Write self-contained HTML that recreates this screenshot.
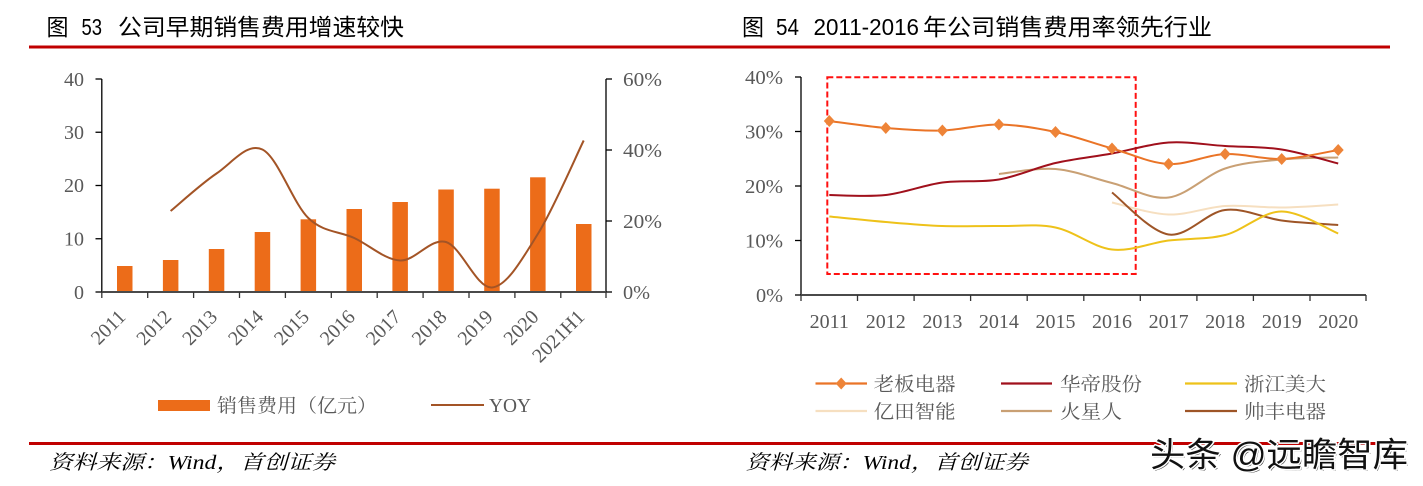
<!DOCTYPE html>
<html><head><meta charset="utf-8"><style>
html,body{margin:0;padding:0;background:#fff;}
svg{display:block;}
.t{font-family:"Liberation Sans","Noto Sans CJK SC",sans-serif;fill:#000;font-size:23px;}
.n{font-family:"Liberation Serif","Noto Serif CJK SC",serif;fill:#595959;font-size:20px;}
.lg{font-family:"Liberation Serif","Noto Serif CJK SC",serif;fill:#595959;font-size:19px;}
.src{font-family:"Liberation Serif","Noto Serif CJK SC",serif;font-style:italic;fill:#000;font-size:20px;}
</style></head><body>
<svg width="1423" height="486" viewBox="0 0 1423 486" xmlns="http://www.w3.org/2000/svg">
<rect width="1423" height="486" fill="#fff"/>
<!-- titles -->
<g class="t">
<text x="46.5" y="35" textLength="22" lengthAdjust="spacingAndGlyphs">图</text>
<text x="81.5" y="35" textLength="20.5" lengthAdjust="spacingAndGlyphs">53</text>
<text x="118" y="35" textLength="286" lengthAdjust="spacingAndGlyphs">公司早期销售费用增速较快</text>
<text x="742" y="35" textLength="22" lengthAdjust="spacingAndGlyphs">图</text>
<text x="776" y="35" textLength="23" lengthAdjust="spacingAndGlyphs">54</text>
<text x="813.5" y="35" textLength="105.5" lengthAdjust="spacingAndGlyphs">2011-2016</text>
<text x="923" y="35" textLength="289" lengthAdjust="spacingAndGlyphs">年公司销售费用率领先行业</text>
</g>
<rect x="29" y="45.5" width="1361" height="3" fill="#C00000"/>
<rect x="29" y="442" width="1361" height="3" fill="#C00000"/>

<!-- LEFT CHART -->
<g fill="#EC6C19">
<rect x="117" y="266" width="15.5" height="26"/>
<rect x="162.9" y="260" width="15.5" height="32"/>
<rect x="208.8" y="249" width="15.5" height="43"/>
<rect x="254.7" y="232" width="15.5" height="60"/>
<rect x="300.6" y="219.3" width="15.5" height="72.7"/>
<rect x="346.5" y="209" width="15.5" height="83"/>
<rect x="392.4" y="202" width="15.5" height="90"/>
<rect x="438.3" y="189.5" width="15.5" height="102.5"/>
<rect x="484.2" y="188.7" width="15.5" height="103.3"/>
<rect x="530.1" y="177.3" width="15.5" height="114.7"/>
<rect x="576" y="224" width="15.5" height="68"/>
</g>
<path d="M170.6,211 C178.25,204.75 201.2,183.75 216.5,173.5 C231.8,163.25 247.1,142.08 262.4,149.5 C277.7,156.92 293,203.25 308.3,218 C323.6,232.75 338.9,230.92 354.2,238 C369.5,245.08 384.8,259.83 400.1,260.5 C415.4,261.17 430.7,237.5 446,242 C461.3,246.5 476.6,288.83 491.9,287.5 C507.2,286.17 522.5,258.5 537.8,234 C553.1,209.5 576.05,156.08 583.7,140.5" fill="none" stroke="#A35426" stroke-width="2"/>
<!-- axes -->
<line x1="101.8" y1="79" x2="101.8" y2="292" stroke="#000" stroke-width="1.3"/>
<g stroke="#000" stroke-width="1.3">
<line x1="95.5" y1="79" x2="101.8" y2="79"/>
<line x1="95.5" y1="132.25" x2="101.8" y2="132.25"/>
<line x1="95.5" y1="185.5" x2="101.8" y2="185.5"/>
<line x1="95.5" y1="238.75" x2="101.8" y2="238.75"/>
<line x1="95.5" y1="292" x2="101.8" y2="292"/>
</g>
<line x1="606" y1="79" x2="606" y2="292" stroke="#000" stroke-width="1.3"/>
<g stroke="#000" stroke-width="1.3">
<line x1="606" y1="79" x2="612" y2="79"/>
<line x1="606" y1="150" x2="612" y2="150"/>
<line x1="606" y1="221" x2="612" y2="221"/>
<line x1="606" y1="292" x2="612" y2="292"/>
</g>
<line x1="101.8" y1="292" x2="606" y2="292" stroke="#4a4a4a" stroke-width="2"/>
<g stroke="#333" stroke-width="1.3">
<line x1="101.8" y1="292" x2="101.8" y2="298"/><line x1="147.7" y1="292" x2="147.7" y2="298"/>
<line x1="193.6" y1="292" x2="193.6" y2="298"/><line x1="239.5" y1="292" x2="239.5" y2="298"/>
<line x1="285.4" y1="292" x2="285.4" y2="298"/><line x1="331.3" y1="292" x2="331.3" y2="298"/>
<line x1="377.2" y1="292" x2="377.2" y2="298"/><line x1="423.1" y1="292" x2="423.1" y2="298"/>
<line x1="469" y1="292" x2="469" y2="298"/><line x1="514.9" y1="292" x2="514.9" y2="298"/>
<line x1="560.8" y1="292" x2="560.8" y2="298"/><line x1="606" y1="292" x2="606" y2="298"/>
</g>
<g class="n" text-anchor="end">
<text x="84" y="86">40</text>
<text x="84" y="139">30</text>
<text x="84" y="192">20</text>
<text x="84" y="245.5">10</text>
<text x="84" y="299">0</text>
</g>
<g class="n">
<text x="623" y="86" textLength="39" lengthAdjust="spacingAndGlyphs">60%</text>
<text x="623" y="157" textLength="39" lengthAdjust="spacingAndGlyphs">40%</text>
<text x="623" y="228" textLength="39" lengthAdjust="spacingAndGlyphs">20%</text>
<text x="623" y="299" textLength="27" lengthAdjust="spacingAndGlyphs">0%</text>
</g>
<g class="n" text-anchor="end" font-size="19">
<text transform="translate(126.7,318) rotate(-45)">2011</text>
<text transform="translate(172.6,318) rotate(-45)">2012</text>
<text transform="translate(218.5,318) rotate(-45)">2013</text>
<text transform="translate(264.4,318) rotate(-45)">2014</text>
<text transform="translate(310.3,318) rotate(-45)">2015</text>
<text transform="translate(356.2,318) rotate(-45)">2016</text>
<text transform="translate(402.1,318) rotate(-45)">2017</text>
<text transform="translate(448,318) rotate(-45)">2018</text>
<text transform="translate(493.9,318) rotate(-45)">2019</text>
<text transform="translate(539.8,318) rotate(-45)">2020</text>
<text transform="translate(585.7,318) rotate(-45)">2021H1</text>
</g>
<!-- left legend -->
<rect x="158" y="400" width="52" height="11" fill="#EC6C19"/>
<text class="lg" x="217" y="412" textLength="160" lengthAdjust="spacingAndGlyphs">销售费用（亿元）</text>
<line x1="431" y1="405" x2="484" y2="405" stroke="#A35426" stroke-width="2"/>
<text class="n" x="489" y="412" textLength="42" lengthAdjust="spacingAndGlyphs">YOY</text>
<text class="src" x="49" y="469" textLength="286" lengthAdjust="spacingAndGlyphs">资料来源：Wind，首创证券</text>

<!-- RIGHT CHART -->
<rect x="827.3" y="77.3" width="308.4" height="196.7" fill="none" stroke="#FF1010" stroke-width="2" stroke-dasharray="6 3"/>
<line x1="801" y1="77" x2="801" y2="295" stroke="#000" stroke-width="1.3"/>
<g stroke="#000" stroke-width="1.3">
<line x1="795" y1="77" x2="801" y2="77"/>
<line x1="795" y1="131.5" x2="801" y2="131.5"/>
<line x1="795" y1="186" x2="801" y2="186"/>
<line x1="795" y1="240.5" x2="801" y2="240.5"/>
<line x1="795" y1="295" x2="801" y2="295"/>
</g>
<line x1="801" y1="295" x2="1366" y2="295" stroke="#4a4a4a" stroke-width="2"/>
<g stroke="#333" stroke-width="1.3">
<line x1="801" y1="295" x2="801" y2="301"/><line x1="857.5" y1="295" x2="857.5" y2="301"/>
<line x1="914.1" y1="295" x2="914.1" y2="301"/><line x1="970.6" y1="295" x2="970.6" y2="301"/>
<line x1="1027.2" y1="295" x2="1027.2" y2="301"/><line x1="1083.8" y1="295" x2="1083.8" y2="301"/>
<line x1="1140.3" y1="295" x2="1140.3" y2="301"/><line x1="1196.9" y1="295" x2="1196.9" y2="301"/>
<line x1="1253.4" y1="295" x2="1253.4" y2="301"/><line x1="1310" y1="295" x2="1310" y2="301"/>
<line x1="1366" y1="295" x2="1366" y2="301"/>
</g>
<g class="n" text-anchor="end">
<text x="783" y="84" textLength="38" lengthAdjust="spacingAndGlyphs">40%</text>
<text x="783" y="138.5" textLength="38" lengthAdjust="spacingAndGlyphs">30%</text>
<text x="783" y="193" textLength="38" lengthAdjust="spacingAndGlyphs">20%</text>
<text x="783" y="247.5" textLength="38" lengthAdjust="spacingAndGlyphs">10%</text>
<text x="783" y="302" textLength="27" lengthAdjust="spacingAndGlyphs">0%</text>
</g>
<g class="n" text-anchor="middle">
<text x="829.3" y="328">2011</text><text x="885.8" y="328">2012</text>
<text x="942.4" y="328">2013</text><text x="998.9" y="328">2014</text>
<text x="1055.5" y="328">2015</text><text x="1112" y="328">2016</text>
<text x="1168.6" y="328">2017</text><text x="1225.1" y="328">2018</text>
<text x="1281.7" y="328">2019</text><text x="1338.2" y="328">2020</text>
</g>
<!-- series -->
<g fill="none" stroke-width="2">
<path stroke="#F6DFC0" d="M1112,202.5 C1121.4,204.5 1149.7,213.9 1168.6,214.5 C1187.4,215.1 1206.2,207.2 1225.1,206 C1244,204.8 1262.8,207.8 1281.7,207.5 C1300.5,207.3 1328.8,205 1338.2,204.5"/>
<path stroke="#C9A074" d="M998.9,174 C1008.3,173.2 1036.6,167.5 1055.5,169 C1074.3,170.5 1093.1,178.3 1112,183 C1130.9,187.8 1149.7,199.9 1168.6,197.5 C1187.4,195.1 1206.2,174.8 1225.1,168.5 C1244,162.2 1262.8,161.3 1281.7,159.5 C1300.5,157.7 1328.8,157.8 1338.2,157.5"/>
<path stroke="#9E5527" d="M1112,192.5 C1121.4,199.5 1149.7,231.6 1168.6,234.5 C1187.4,237.4 1206.2,212.3 1225.1,210 C1244,207.7 1262.8,218 1281.7,220.5 C1300.5,223 1328.8,224.3 1338.2,225"/>
<path stroke="#EEC21A" d="M829.3,216.5 C838.7,217.4 866.9,220.4 885.8,222 C904.7,223.6 923.5,225.3 942.4,226 C961.2,226.7 980,225.8 998.9,226 C1017.8,226.3 1036.6,223.6 1055.5,227.5 C1074.3,231.4 1093.1,247.3 1112,249.5 C1130.9,251.7 1149.7,242.9 1168.6,240.5 C1187.4,238.1 1206.2,239.8 1225.1,235 C1244,230.2 1262.8,211.3 1281.7,211.5 C1300.5,211.8 1328.8,229.8 1338.2,233.5"/>
<path stroke="#A0101C" d="M829.3,195 C838.7,195 866.9,197.1 885.8,195 C904.7,192.9 923.5,185.1 942.4,182.5 C961.2,179.9 980,182.8 998.9,179.5 C1017.8,176.3 1036.6,167.3 1055.5,163 C1074.3,158.7 1093.1,156.9 1112,153.5 C1130.9,150.1 1149.7,143.8 1168.6,142.5 C1187.4,141.3 1206.2,144.8 1225.1,146 C1244,147.2 1262.8,146.6 1281.7,149.5 C1300.5,152.4 1328.8,161.2 1338.2,163.5"/>
<path stroke="#EA7427" d="M829.3,121 C838.7,122.2 866.9,126.4 885.8,128 C904.7,129.6 923.5,131.1 942.4,130.5 C961.2,129.9 980,124.3 998.9,124.5 C1017.8,124.8 1036.6,128 1055.5,132 C1074.3,136 1093.1,143.2 1112,148.5 C1130.9,153.8 1149.7,163.1 1168.6,164 C1187.4,164.9 1206.2,154.8 1225.1,154 C1244,153.2 1262.8,159.7 1281.7,159 C1300.5,158.3 1328.8,151.5 1338.2,150"/>
</g>
<g fill="#EE8438">
<path d="M829.3,115 l5.5,6 l-5.5,6 l-5.5,-6z"/>
<path d="M885.8,122 l5.5,6 l-5.5,6 l-5.5,-6z"/>
<path d="M942.4,124.5 l5.5,6 l-5.5,6 l-5.5,-6z"/>
<path d="M998.9,118.5 l5.5,6 l-5.5,6 l-5.5,-6z"/>
<path d="M1055.5,126 l5.5,6 l-5.5,6 l-5.5,-6z"/>
<path d="M1112,142.5 l5.5,6 l-5.5,6 l-5.5,-6z"/>
<path d="M1168.6,158 l5.5,6 l-5.5,6 l-5.5,-6z"/>
<path d="M1225.1,148 l5.5,6 l-5.5,6 l-5.5,-6z"/>
<path d="M1281.7,153 l5.5,6 l-5.5,6 l-5.5,-6z"/>
<path d="M1338.2,144 l5.5,6 l-5.5,6 l-5.5,-6z"/>
</g>
<!-- right legend -->
<g stroke-width="2.2">
<line x1="815.5" y1="383.5" x2="867" y2="383.5" stroke="#EA7427"/>
<line x1="1001" y1="383.5" x2="1052" y2="383.5" stroke="#A0101C"/>
<line x1="1185" y1="383.5" x2="1237" y2="383.5" stroke="#EEC21A"/>
<line x1="815.5" y1="411" x2="867" y2="411" stroke="#F6DFC0"/>
<line x1="1001" y1="411" x2="1052" y2="411" stroke="#C9A074"/>
<line x1="1185" y1="411" x2="1237" y2="411" stroke="#9E5527"/>
</g>
<path d="M841.2,377.5 l5.5,6 l-5.5,6 l-5.5,-6z" fill="#EE8438"/>
<g class="lg" font-size="20">
<text x="873.6" y="390.5" textLength="82" lengthAdjust="spacingAndGlyphs">老板电器</text>
<text x="1060" y="390.5" textLength="82" lengthAdjust="spacingAndGlyphs">华帝股份</text>
<text x="1244" y="390.5" textLength="82" lengthAdjust="spacingAndGlyphs">浙江美大</text>
<text x="873.6" y="418" textLength="82" lengthAdjust="spacingAndGlyphs">亿田智能</text>
<text x="1060" y="418" textLength="62" lengthAdjust="spacingAndGlyphs">火星人</text>
<text x="1244" y="418" textLength="82" lengthAdjust="spacingAndGlyphs">帅丰电器</text>
</g>
<text class="src" x="745.5" y="469" textLength="282.5" lengthAdjust="spacingAndGlyphs">资料来源：Wind，首创证券</text>
<!-- watermark -->
<text x="1151.5" y="468" textLength="258" lengthAdjust="spacingAndGlyphs" font-family="'Liberation Sans','Noto Sans CJK SC',sans-serif" font-size="34" fill="#333">头条 @远瞻智库</text>
<text x="1150" y="466.5" textLength="258" lengthAdjust="spacingAndGlyphs" font-family="'Liberation Sans','Noto Sans CJK SC',sans-serif" font-size="34" fill="#111" stroke="#fff" stroke-width="3" paint-order="stroke" stroke-linejoin="round">头条 @远瞻智库</text>
</svg>
</body></html>
